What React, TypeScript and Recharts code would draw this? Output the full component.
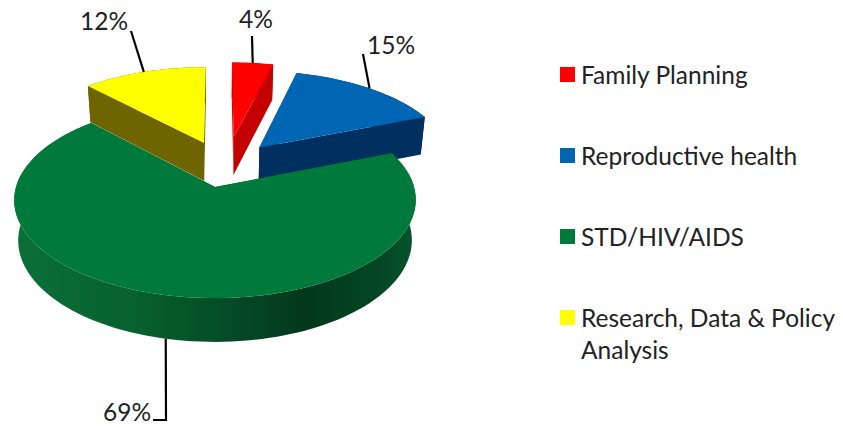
import React from "react";
import { PieChart, Pie, Legend } from "recharts";

const legendOrder = ["Family Planning", "Reproductive health", "STD/HIV/AIDS", "Research, Data & Policy Analysis"];
const legendColors = ["#ff0000", "#0066b3", "#007a3b", "#ffff00"];

// Drawn back to front so nearer slices cover farther ones.
const categories = ["Research, Data & Policy Analysis", "Family Planning", "Reproductive health", "STD/HIV/AIDS"];
const shares = [12, 4, 15, 69];
const labels = ["12%", "4%", "15%", "69%"];
const topColors = ["#ffff00", "#ff0000", "#0066b3", "#007a3b"];
const wallColors = ["#6f6500", "#c40000", "#00305f", "url(#greenWall)"];
const explodeX = [-0.075, 0.085, 0.22, -0.015];
const explodeY = [-0.49, -0.56, -0.435, 0];

const rows = categories.map((name, i) => ({ name, value: shares[i], index: i }));

const FONT = "Lato, 'Open Sans', sans-serif";
const K = 0.1327;
const TILT = 0.484;
const DEPTH = 40.7;
const BASE_SHRINK = 1.02;

function project(cx: number, cy: number, r: number, u: number, v: number, base: boolean) {
  const w = (1 - K * v) * (base ? BASE_SHRINK : 1);
  return {
    x: cx + (r * u) / w,
    y: cy + (r * TILT * v + (base ? DEPTH : 0)) / w,
  };
}

function arcPoints(p: any, i: number, base: boolean) {
  const pts: { x: number; y: number }[] = [];
  const a0 = p.startAngle;
  const a1 = p.endAngle;
  const n = Math.max(2, Math.ceil(Math.abs(a1 - a0) / 2));
  for (let s = 0; s <= n; s++) {
    const a = ((a0 + ((a1 - a0) * s) / n) * Math.PI) / 180;
    pts.push(project(p.cx, p.cy, p.outerRadius, explodeX[i] + Math.cos(a), explodeY[i] - Math.sin(a), base));
  }
  return pts;
}

const toPath = (pts: { x: number; y: number }[]) =>
  "M" + pts.map((q) => `${q.x.toFixed(2)},${q.y.toFixed(2)}`).join("L") + "Z";

function Slice3D(props: any) {
  const i = props.payload?.index ?? props.index;
  const top = arcPoints(props, i, false);
  const bottom = arcPoints(props, i, true);
  const apexT = project(props.cx, props.cy, props.outerRadius, explodeX[i], explodeY[i], false);
  const apexB = project(props.cx, props.cy, props.outerRadius, explodeX[i], explodeY[i], true);
  const last = top.length - 1;
  const solid = i === 3 ? "#04502a" : wallColors[i];
  return (
    <g>
      {i === 3 && (
        <defs>
          <linearGradient id="greenWall" gradientUnits="userSpaceOnUse" x1={14} x2={416} y1={0} y2={0}>
            <stop offset="0" stopColor="#0b7038" />
            <stop offset="0.3" stopColor="#07602f" />
            <stop offset="0.55" stopColor="#044a26" />
            <stop offset="0.72" stopColor="#02381c" />
            <stop offset="0.9" stopColor="#034523" />
            <stop offset="1" stopColor="#06552c" />
          </linearGradient>
        </defs>
      )}
      <path d={toPath([apexT, top[0], bottom[0], apexB])} fill={solid} />
      <path d={toPath([apexT, top[last], bottom[last], apexB])} fill={solid} />
      <path d={toPath([...top, ...bottom.slice().reverse()])} fill={wallColors[i]} />
      <path d={toPath([apexT, ...top])} fill={topColors[i]} />
    </g>
  );
}

// Outer bends of the leader lines, and where each percentage sits.
const leaderBends: number[][][] = [[[131, 31]], [[252, 36]], [[363, 54]], [[166, 420], [153, 420]]];
const labelX = [104, 256, 391, 127];
const labelY = [30, 28, 54, 421];
const anchorOnBase = [false, false, false, true];

function SliceLabel(props: any) {
  const i = props.payload?.index ?? props.index;
  const a = (props.midAngle * Math.PI) / 180;
  const s = project(props.cx, props.cy, props.outerRadius, explodeX[i] + Math.cos(a), explodeY[i] - Math.sin(a), anchorOnBase[i]);
  const points = [[s.x, s.y], ...leaderBends[i]].map((q) => q.join(",")).join(" ");
  return (
    <g>
      <polyline points={points} fill="none" stroke="#000" strokeWidth={2.2} />
      <text x={labelX[i]} y={labelY[i]} textAnchor="middle" fontFamily={FONT} fontSize={24.5} fill="#222">
        {labels[i]}
      </text>
    </g>
  );
}

function LegendBox() {
  return (
    <div style={{ fontFamily: FONT, fontSize: 24.5, lineHeight: "32px", color: "#222" }}>
      {legendOrder.map((name, i) => (
        <div key={name} style={{ display: "flex", alignItems: "flex-start", height: 81 }}>
          <span style={{ width: 15, height: 15, marginTop: 8, marginRight: 6, flex: "none", background: legendColors[i] }} />
          <span style={{ width: 262 }}>{name}</span>
        </div>
      ))}
    </div>
  );
}

export default function App() {
  return (
    <div style={{ position: "absolute", left: 0, top: 0, background: "#fff" }}>
      <PieChart width={843} height={427} margin={{ top: 0, right: 0, bottom: 0, left: 0 }}>
        <Pie
          data={rows}
          dataKey="value"
          nameKey="name"
          cx={218}
          cy={187}
          innerRadius={0}
          outerRadius={199}
          startAngle={133.2}
          endAngle={-226.8}
          paddingAngle={0}
          stroke="none"
          shape={Slice3D}
          label={SliceLabel}
          labelLine={false}
          isAnimationActive={false}
        />
        <Legend
          content={LegendBox}
          wrapperStyle={{ position: "absolute", left: 560, top: 59, width: 283, right: "auto", bottom: "auto" }}
        />
      </PieChart>
    </div>
  );
}
